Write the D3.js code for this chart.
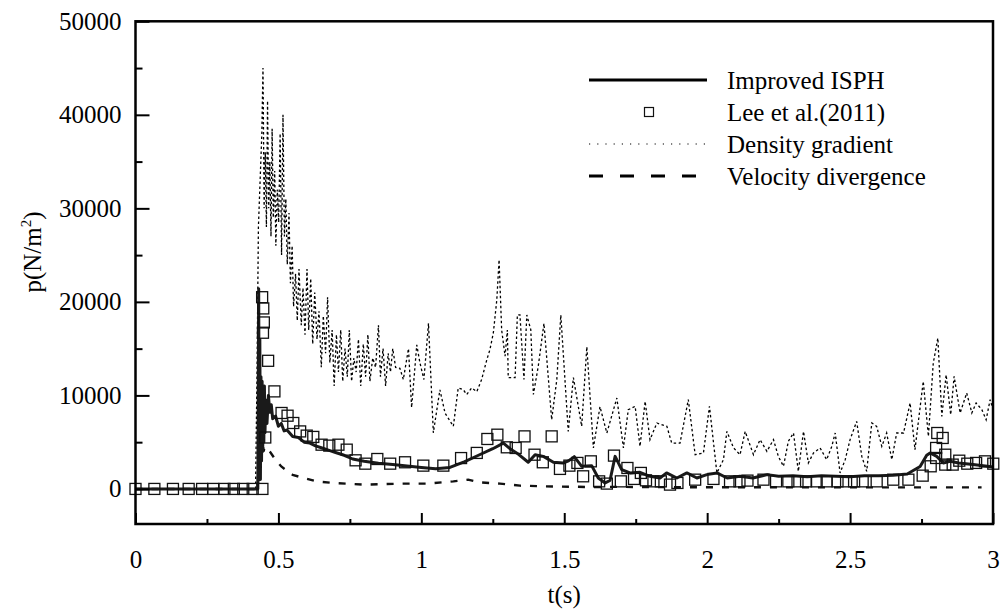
<!DOCTYPE html>
<html><head><meta charset="utf-8">
<script src="https://cdn.jsdelivr.net/npm/d3@7/dist/d3.min.js"></script>
<style>body{margin:0;background:#fff}svg{display:block}</style>
</head><body><svg id="c" width="1002" height="610"></svg>
<script>
// ---------- DATA ----------
const xTicksMajor = [0, 0.5, 1, 1.5, 2, 2.5, 3];
const xTickLabels = ["0", "0.5", "1", "1.5", "2", "2.5", "3"];
const yTicksMajor = [0, 10000, 20000, 30000, 40000, 50000];
const yTickLabels = ["0", "10000", "20000", "30000", "40000", "50000"];
const seriesNames = ["Improved ISPH", "Lee et al.(2011)", "Density gradient", "Velocity divergence"];

// Improved ISPH (t, p)
const ispT = [0,0.42,0.428,0.431,0.433,0.435,0.437,0.439,0.441,0.443,0.445,0.447,0.449,0.451,0.453,0.456,0.46,0.465,0.47,0.475,0.48,0.49,0.5,0.51,0.52,0.53,0.55,0.57,0.59,0.61,0.63,0.65,0.68,0.7,0.73,0.76,0.8,0.85,0.9,0.95,1.0,1.05,1.1,1.15,1.2,1.25,1.287,1.31,1.34,1.374,1.398,1.427,1.462,1.497,1.515,1.535,1.561,1.596,1.619,1.643,1.66,1.678,1.701,1.73,1.765,1.8,1.835,1.858,1.894,1.929,1.964,1.999,2.034,2.07,2.115,2.16,2.21,2.25,2.3,2.35,2.4,2.45,2.5,2.55,2.6,2.65,2.7,2.745,2.768,2.78,2.803,2.826,2.85,2.88,2.93,2.98,3.0];
const ispP = [0,0,0,21400,2000,16000,1000,12000,3000,11500,4000,10000,5000,11000,6000,9500,7000,10000,8200,9000,7500,7800,6700,7000,6200,6300,5600,5500,5000,4900,4600,4400,4100,3900,3600,3200,2950,2750,2600,2450,2300,2150,2300,2900,3600,4300,4900,4300,3700,2850,3660,3480,2850,2780,3000,3450,2420,2490,1170,640,900,3480,2060,1710,1780,1350,1170,1710,1170,1710,1170,1530,1710,1170,1350,1170,1530,1350,1400,1300,1400,1350,1300,1400,1400,1450,1600,2400,3600,3850,3480,2780,2950,2780,2600,2420,2350];

// Velocity divergence (t, p)
const velT = [0,0.428,0.432,0.435,0.438,0.441,0.444,0.448,0.452,0.46,0.47,0.49,0.51,0.55,0.59,0.635,0.7,0.8,0.943,1.02,1.112,1.164,1.205,1.275,1.345,1.43,1.58,1.7,1.8,2.0,2.3,2.6,2.96];
const velP = [0,0,8000,2000,6000,3000,5500,4000,4500,4300,4000,3100,2400,1500,1150,800,620,460,570,570,810,990,700,570,350,280,210,220,200,180,170,170,170];

// Density gradient (t, p)
const denT = [0,0.415,0.42,0.425,0.43,0.436,0.442,0.446,0.45,0.454,0.458,0.462,0.466,0.47,0.474,0.478,0.482,0.487,0.491,0.496,0.501,0.506,0.511,0.516,0.521,0.526,0.531,0.537,0.542,0.548,0.553,0.56,0.566,0.572,0.58,0.586,0.593,0.6,0.606,0.613,0.62,0.627,0.635,0.642,0.65,0.657,0.665,0.672,0.68,0.688,0.695,0.703,0.71,0.718,0.725,0.733,0.741,0.748,0.756,0.764,0.772,0.78,0.788,0.797,0.805,0.813,0.82,0.83,0.84,0.85,0.857,0.866,0.875,0.884,0.892,0.9,0.91,0.925,0.937,0.955,0.966,0.984,0.995,1.009,1.025,1.042,1.065,1.083,1.112,1.129,1.147,1.159,1.176,1.194,1.211,1.229,1.24,1.252,1.264,1.272,1.281,1.293,1.301,1.304,1.328,1.336,1.345,1.359,1.369,1.383,1.392,1.409,1.429,1.456,1.474,1.488,1.514,1.532,1.561,1.579,1.602,1.625,1.649,1.684,1.707,1.724,1.748,1.765,1.783,1.8,1.824,1.859,1.876,1.905,1.934,1.958,1.987,2.008,2.034,2.057,2.069,2.092,2.115,2.133,2.162,2.185,2.209,2.232,2.249,2.267,2.284,2.302,2.319,2.337,2.354,2.372,2.395,2.418,2.436,2.448,2.465,2.483,2.5,2.523,2.541,2.558,2.576,2.593,2.611,2.628,2.646,2.663,2.687,2.71,2.727,2.756,2.774,2.791,2.807,2.821,2.836,2.852,2.864,2.885,2.908,2.926,2.941,2.961,2.976,2.99,3.0];
const denP = [0,0,0,12000,28000,33000,38000,45000,30000,36000,28000,41500,30000,35000,27000,38500,29000,34000,26000,32000,28500,38000,25000,40000,27000,31000,24000,29500,22000,26000,19500,23000,18000,23500,17500,21500,16500,23500,17000,22500,15500,21000,16000,19000,13000,18500,14500,20500,13500,17000,11000,16500,12500,17000,11500,15000,12000,17000,11500,14000,12500,16000,11000,15500,12000,16500,11500,14000,13000,17500,12000,15000,11000,14500,12500,15000,13000,12900,11700,15000,8700,15400,13500,11700,17700,6000,10600,8100,6700,10800,10600,10100,10800,10400,11700,13800,14900,16700,20200,24500,17000,14200,17000,11900,11900,18600,18600,11700,18600,17000,10100,13100,17700,7400,11700,18600,6150,11900,6700,15200,4380,8800,5980,9720,4380,8470,8830,4550,9360,5270,7050,6690,4900,4900,9540,3660,3850,8830,1710,3130,6150,4400,3660,6150,3660,5270,4020,5270,3480,2420,5090,5980,1880,6150,2780,3850,4380,3130,4550,5980,1710,3130,5270,7220,3480,1880,7050,6690,4550,5980,3130,5980,5980,9190,4200,11500,5620,13460,16130,7760,12210,7940,12030,8120,10250,8120,9190,8470,7400,9540,8500];

// Lee et al. (2011) (t, p)
const leeT = [0,0.066,0.131,0.186,0.233,0.272,0.311,0.344,0.377,0.41,0.444,0.443,0.447,0.449,0.446,0.464,0.454,0.486,0.511,0.532,0.552,0.576,0.599,0.622,0.651,0.678,0.71,0.739,0.77,0.804,0.846,0.891,0.943,1.007,1.077,1.139,1.194,1.231,1.266,1.299,1.33,1.361,1.396,1.425,1.456,1.485,1.518,1.546,1.566,1.593,1.622,1.649,1.674,1.698,1.721,1.744,1.768,1.786,1.812,1.838,1.87,1.896,1.958,2.022,2.08,2.113,2.141,2.197,2.241,2.284,2.316,2.346,2.383,2.418,2.456,2.486,2.514,2.544,2.593,2.651,2.704,2.754,2.782,2.805,2.824,2.801,2.801,2.833,2.833,2.859,2.882,2.91,2.941,2.972,3.001];
const leeP = [0,0,0,0,0,0,0,0,0,0,0,20500,19300,17800,16700,13700,5500,10430,8120,7830,7050,6150,5700,5560,4730,4630,4730,4200,3060,2700,3200,2700,2850,2490,2490,3300,3850,5340,5800,4450,4380,5620,3660,2850,5620,2140,2490,2780,1350,2950,810,570,3560,810,2240,1070,1710,920,810,810,460,640,990,1070,810,810,890,990,810,810,810,810,810,810,810,810,810,810,810,990,990,1420,2420,5980,5450,4380,3310,3660,2600,2600,3020,2700,2780,2950,2700];

// ---------- CHART ----------
const FONT = "'Liberation Serif', 'Times New Roman', Tinos, 'DejaVu Serif', serif";
const svg = d3.select("#c");
const x = d3.scaleLinear().domain([0, 3]).range([135.5, 993]);
const y = d3.scaleLinear().domain([-3750, 50000]).range([524, 21.3]);

const zip = (a, b) => a.map((v, i) => [v, b[i]]);
const line = d3.line().x(d => x(d[0])).y(d => y(d[1]));

const g = svg.append("g");
svg.append("clipPath").attr("id", "clip").append("rect")
  .attr("x", x(0)).attr("y", y(50000)).attr("width", x(3) - x(0)).attr("height", y(-3750) - y(50000));
const plot = g.append("g").attr("clip-path", "url(#clip)");

plot.append("path").datum(zip(denT, denP)).attr("d", line)
  .attr("fill", "none").attr("stroke", "#000").attr("stroke-width", 1.3).attr("stroke-dasharray", "2.5,2.5");
plot.append("path").datum(zip(velT, velP)).attr("d", line)
  .attr("fill", "none").attr("stroke", "#111").attr("stroke-width", 2.4).attr("stroke-dasharray", "7,9");
plot.append("path").datum(zip(ispT, ispP)).attr("d", line)
  .attr("fill", "none").attr("stroke", "#1a1a1a").attr("stroke-width", 3).attr("stroke-linejoin", "round");
const sq = 11;
g.append("g").selectAll("rect").data(zip(leeT, leeP)).join("rect")
  .attr("x", d => x(d[0]) - sq / 2).attr("y", d => y(d[1]) - sq / 2)
  .attr("width", sq).attr("height", sq)
  .attr("fill", "none").attr("stroke", "#111").attr("stroke-width", 1.3);

// axes
const axFont = "25px";
const yMajor = d3.axisLeft(y).tickValues(yTicksMajor).tickFormat((d, i) => yTickLabels[i]).tickSize(-14).tickPadding(14);
const yMinor = d3.axisLeft(y).tickValues([5000, 15000, 25000, 35000, 45000]).tickFormat("").tickSize(-7);
const xMajor = d3.axisBottom(x).tickValues(xTicksMajor).tickFormat((d, i) => xTickLabels[i]).tickSize(-11).tickPadding(26);
const xMinor = d3.axisBottom(x).tickValues([0.25, 0.75, 1.25, 1.75, 2.25, 2.75]).tickFormat("").tickSize(-5);

function styleAxis(sel) {
  sel.attr("font-family", null);
  sel.select(".domain").remove();
  sel.selectAll("line").attr("stroke", "#000").attr("stroke-width", 2);
  sel.selectAll("text").style("font-family", FONT).style("font-size", axFont).attr("fill", "#000");
}
g.append("g").attr("transform", `translate(${x(0)},0)`).call(yMajor).call(styleAxis);
g.append("g").attr("transform", `translate(${x(0)},0)`).call(yMinor).call(styleAxis);
g.append("g").attr("transform", `translate(0,${y(-3750)})`).call(xMajor).call(styleAxis);
g.append("g").attr("transform", `translate(0,${y(-3750)})`).call(xMinor).call(styleAxis);

// frame
g.append("rect").attr("x", x(0)).attr("y", y(50000)).attr("width", x(3) - x(0)).attr("height", y(-3750) - y(50000))
  .attr("fill", "none").attr("stroke", "#000").attr("stroke-width", 2.5);

// axis titles
g.append("text").attr("x", (x(0) + x(3)) / 2).attr("y", 603).attr("text-anchor", "middle")
  .style("font-family", FONT).style("font-size", "25px").text("t(s)");
const yt = g.append("text").attr("transform", "translate(41,252) rotate(-90)").attr("text-anchor", "middle")
  .style("font-family", FONT).style("font-size", "25px");
yt.append("tspan").text("p(N/m");
yt.append("tspan").style("font-size", "15px").attr("dy", "-10").text("2");
yt.append("tspan").attr("dy", "10").text(")");

// legend
const lg = g.append("g");
const lx1 = 589, lx2 = 707, tx = 727;
const rows = [80, 112, 144, 176];
lg.append("line").attr("x1", lx1).attr("x2", lx2).attr("y1", rows[0]).attr("y2", rows[0]).attr("stroke", "#000").attr("stroke-width", 3);
lg.append("rect").attr("x", 649 - 4.5).attr("y", rows[1] - 4.5).attr("width", 9).attr("height", 9).attr("fill", "none").attr("stroke", "#111").attr("stroke-width", 1.2);
lg.append("line").attr("x1", lx1).attr("x2", lx2).attr("y1", rows[2]).attr("y2", rows[2]).attr("stroke", "#000").attr("stroke-width", 1.2).attr("stroke-dasharray", "1.2,7");
lg.append("line").attr("x1", lx1).attr("x2", 702).attr("y1", rows[3]).attr("y2", rows[3]).attr("stroke", "#000").attr("stroke-width", 3).attr("stroke-dasharray", "14,17");
seriesNames.forEach((n, i) => {
  lg.append("text").attr("x", tx).attr("y", rows[i]).attr("dy", "0.35em")
    .style("font-family", FONT).style("font-size", "25px").text(n);
});
</script></body></html>
